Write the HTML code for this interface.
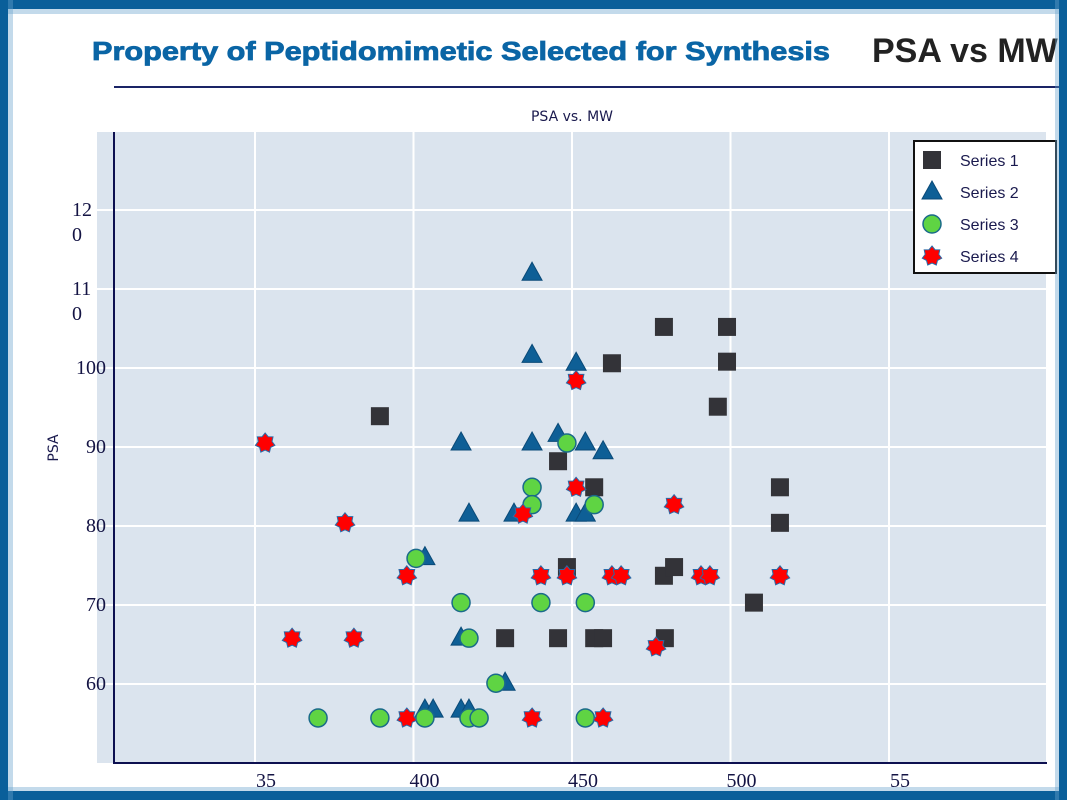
<!DOCTYPE html>
<html><head><meta charset="utf-8"><style>
html,body{margin:0;padding:0;width:1067px;height:800px;overflow:hidden;background:#fff}
svg{display:block}
</style></head><body>
<svg id="chart" width="1067" height="800" xmlns="http://www.w3.org/2000/svg">
<rect x="0" y="0" width="1067" height="800" fill="#fff"/>
<text x="92" y="60" textLength="738" lengthAdjust="spacingAndGlyphs" font-family="Liberation Sans, sans-serif" font-weight="bold" font-size="26" stroke="#0a65a5" stroke-width="0.8" fill="#0a65a5">Property of Peptidomimetic Selected for Synthesis</text>
<text x="872" y="62" font-family="Liberation Sans, sans-serif" font-weight="bold" font-size="34" fill="#222">PSA vs MW</text>
<line x1="114" y1="87" x2="1060" y2="87" stroke="#1a2466" stroke-width="2"/>
<text x="572" y="121" text-anchor="middle" font-family="DejaVu Sans, sans-serif" font-size="14" fill="#1a1a4e">PSA vs. MW</text>
<rect x="97" y="132" width="950" height="631" fill="#dbe4ee"/>
<g id="grid"></g>
<g id="ticks" font-family="Liberation Serif, serif" font-size="20" fill="#141444"></g>
<text transform="translate(58,448) rotate(-90)" text-anchor="middle" font-family="DejaVu Sans, sans-serif" font-size="14" fill="#1a1a4e">PSA</text>
<line x1="114" y1="132" x2="114" y2="764" stroke="#0d1050" stroke-width="2"/>
<line x1="113" y1="763" x2="1047" y2="763" stroke="#0d1050" stroke-width="2"/>
<g id="marks"></g>
<g>
<rect x="914" y="141" width="142" height="132" fill="#fff" stroke="#111" stroke-width="2"/>
<g id="legend-items" font-family="Liberation Sans, sans-serif" font-size="16" fill="#1a1a4e"></g>
</g>
<rect x="0" y="0" width="1067" height="9" fill="#0a5f9a"/>
<rect x="0" y="9" width="1067" height="5" fill="#6aa3cc" opacity="0.4"/>
<rect x="0" y="791" width="1067" height="9" fill="#0a5f9a"/>
<rect x="0" y="787" width="1067" height="4" fill="#6aa3cc" opacity="0.4"/>
<rect x="0" y="0" width="8" height="800" fill="#0a5f9a"/>
<rect x="8" y="0" width="5" height="800" fill="#6aa3cc" opacity="0.4"/>
<rect x="1059" y="0" width="8" height="800" fill="#0a5f9a"/>
<rect x="1055" y="0" width="4" height="800" fill="#6aa3cc" opacity="0.4"/>
</svg>
<script>
const xTicks=[350,400,450,500,550];
const xTickLabels=["35","400","450","500","55"];
const yTicks=[60,70,80,90,100,110,120];
const yTickLabels=[["60"],["70"],["80"],["90"],["100"],["11","0"],["12","0"]];
const s1x=[389.4,445.6,448.4,457,428.9,445.6,457,459.8,479,462.6,498.9,498.9,496,479,482.2,479.3,507.4,515.6,515.6];
const s1y=[93.9,88.2,74.8,84.9,65.8,65.8,65.8,65.8,105.2,100.6,105.2,100.8,95.1,73.7,74.8,65.8,70.3,84.9,80.4];
const s2x=[437.4,437.4,451.3,415,437.4,445.6,454.2,459.8,417.5,431.7,451.3,454.2,403.6,415,428.9,403.6,406.2,415,417.5];
const s2y=[112,101.6,100.6,90.5,90.5,91.6,90.5,89.4,81.5,81.5,81.5,81.5,76,65.8,60.1,56.7,56.7,56.7,56.7];
const s3x=[369.9,389.4,403.6,417.5,420.7,454.2,400.8,415,440.2,454.2,417.5,426,437.4,437.4,448.4,457];
const s3y=[55.7,55.7,55.7,55.7,55.7,55.7,75.9,70.3,70.3,70.3,65.8,60.1,84.9,82.7,90.5,82.7];
const s4x=[353.2,361.7,378.4,381.2,397.9,397.9,434.5,437.4,440.2,448.4,451.3,451.3,462.6,465.5,476.5,482.2,490.7,493.5,515.6,459.8];
const s4y=[90.5,65.8,80.4,65.8,73.7,55.7,81.5,55.7,73.7,73.7,84.9,98.4,73.7,73.7,64.7,82.7,73.7,73.7,73.7,55.7];

const NS='http://www.w3.org/2000/svg';
const X=v=>255+(v-350)*3.17;
const Y=v=>684-(v-60)*7.9;
function mk(tag,attrs,parent){const e=document.createElementNS(NS,tag);for(const k in attrs)e.setAttribute(k,attrs[k]);parent.appendChild(e);return e;}
const grid=document.getElementById('grid');
xTicks.forEach((t,i)=>{
  const l=mk('line',{x1:X(t),x2:X(t),y1:132,y2:763,stroke:'#fff','stroke-width':2},grid);
  
  
});
mk('line',{x1:1047,x2:1047,y1:132,y2:763,stroke:'#fff','stroke-width':2},grid);
yTicks.forEach(t=>{
  const l=mk('line',{x1:97,x2:1047,y1:Y(t),y2:Y(t),stroke:'#fff','stroke-width':2},grid);
  
  
});
const ticks=document.getElementById('ticks');
xTicks.forEach((t,i)=>{
  const tx=mk('text',{x:X(t)+11,y:787,'text-anchor':'middle'},ticks);
  tx.textContent=xTickLabels[i];
  
  
});
yTicks.forEach((t,i)=>{
  const lines=yTickLabels[i];
  lines.forEach((s,j)=>{
    const tx=mk('text',{x:lines.length>1?72:106,y:Y(t)+6+j*25,'text-anchor':lines.length>1?'start':'end'},ticks);
    tx.textContent=s;
    
    
  });
});
function square(g,cx,cy){return mk('rect',{x:cx-9,y:cy-9,width:18,height:18,fill:'#333338'},g);}
function tri(g,cx,cy){return mk('polygon',{points:`${cx},${cy-11} ${cx+10},${cy+7} ${cx-10},${cy+7}`,fill:'#0e5f96',stroke:'#0a4a78','stroke-width':1},g);}
function circ(g,cx,cy){return mk('circle',{cx:cx,cy:cy,r:9,fill:'#5fd443',stroke:'#1a6a8a','stroke-width':1.5},g);}
function star(g,cx,cy){let p=[];for(let k=0;k<14;k++){const r=k%2?7:10;const a=-Math.PI/2+k*Math.PI/7;p.push((cx+r*Math.cos(a)).toFixed(1)+','+(cy+r*Math.sin(a)).toFixed(1));}
  return mk('polygon',{points:p.join(' '),fill:'#ff0000',stroke:'#2a6aa8','stroke-width':1},g);}
const marks=document.getElementById('marks');
const series=[[s1x,s1y,square,'series-1'],[s2x,s2y,tri,'series-2'],[s3x,s3y,circ,'series-3'],[s4x,s4y,star,'series-4']];
series.forEach(([xs,ys,fn,name])=>{
  const g=mk('g',{},marks);
  
  
  xs.forEach((v,i)=>{
    const m=fn(g,X(v),Y(ys[i]));
    
    
  });
});
const li=document.getElementById('legend-items');
series.forEach(([xs,ys,fn,name],i)=>{
  const cy=160+i*32;
  const m=fn(li,932,cy);
  
  
  const t=mk('text',{x:960,y:cy+6},li);
  t.textContent='Series '+(i+1);
  
  
});
</script>
</body></html>
